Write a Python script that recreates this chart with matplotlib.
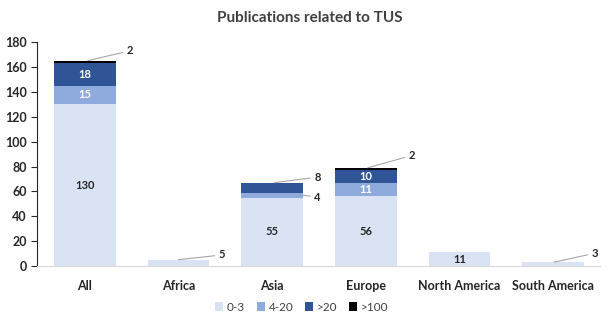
import numpy as np
import matplotlib.pyplot as plt

plt.rcParams['font.family'] = ['Lato', 'DejaVu Sans']

# data
regions = ['All', 'Africa', 'Asia', 'Europe', 'North America', 'South America']
series_names = ['0-3', '4-20', '>20', '>100']
s_0_3 = [130, 5, 55, 56, 11, 3]
s_4_20 = [15, 0, 4, 11, 0, 0]
s_20 = [18, 0, 8, 10, 0, 0]
s_100 = [2, 0, 0, 2, 0, 0]

colors = ['#dae3f3', '#8faadc', '#2f5597', '#000000']
label_colors = ['#262626', 'white', 'white', 'white']

fig = plt.figure(figsize=(6.08, 3.23), dpi=100)
ax = fig.add_axes([0.061, 0.176, 0.926, 0.694])

x = np.arange(len(regions))
series = [s_0_3, s_4_20, s_20, s_100]
bottom = np.zeros(len(regions))
bars = []
for vals, c, name in zip(series, colors, series_names):
    b = ax.bar(x, vals, 0.66, bottom=bottom, color=c, label=name)
    bars.append((b, vals, bottom.copy()))
    bottom += np.array(vals)

# labels inside the bars
inside = [(0, 0), (0, 1), (0, 2), (2, 0), (3, 0), (3, 1), (3, 2), (4, 0)]
for i, s in inside:
    b, vals, bot = bars[s]
    ax.text(x[i], bot[i] + vals[i] / 2, str(vals[i]), ha='center', va='center',
            fontsize=8, fontweight='bold', color=label_colors[s])

# labels with leader lines
outside = [
    (0, 3, (0.03, 165), (0.45, 173)),
    (1, 0, (1.0, 5.2), (1.43, 9)),
    (2, 2, (2.02, 67), (2.45, 71.5)),
    (2, 1, (2.33, 57), (2.45, 55.5)),
    (3, 3, (3.02, 79), (3.46, 89)),
    (5, 0, (5.01, 3.2), (5.41, 10.4)),
]
for i, s, xy, xyt in outside:
    vals = series[s]
    ax.annotate(str(vals[i]), xy=xy, xytext=xyt, ha='left', va='center',
                fontsize=8, fontweight='bold', color='#262626',
                arrowprops=dict(arrowstyle='-', color='#a6a6a6', lw=0.8,
                                shrinkA=1, shrinkB=0))

ax.set_xlim(-0.51, 5.5)
ax.set_ylim(0, 180)
ax.set_yticks(range(0, 181, 20))
ax.set_xticks(x)
ax.set_xticklabels(regions)
for lab in ax.get_xticklabels() + ax.get_yticklabels():
    lab.set_fontweight('bold')
    lab.set_fontsize(9)
    lab.set_color('#262626')
ax.tick_params(axis='x', length=0, pad=10)
ax.tick_params(axis='y', length=4, direction='out', color='#262626')
ax.spines['top'].set_visible(False)
ax.spines['right'].set_visible(False)
ax.spines['left'].set_color('#262626')
ax.spines['bottom'].set_color('#d9d9d9')

fig.suptitle('Publications related to TUS', x=0.51, y=0.965, fontsize=11,
             fontweight='bold', color='#404040')

ax.legend(loc='center', bbox_to_anchor=(0.47, -0.183), ncol=4, frameon=False,
          fontsize=8.5, handlelength=0.7, handleheight=0.7, handletextpad=0.3,
          columnspacing=1.0, labelcolor='#404040', borderaxespad=0, borderpad=0)

fig.savefig('out.png', dpi=100)
